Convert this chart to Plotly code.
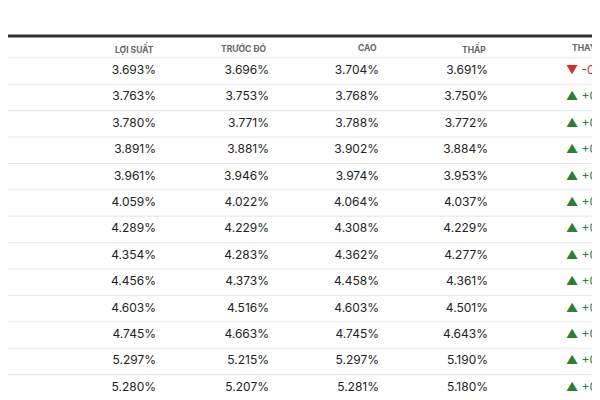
import plotly.graph_objects as go

tenors = ["1M","2M","3M","4M","6M","1Y","2Y","3Y","5Y","7Y","10Y","20Y","30Y"]
yield_ = ["3.693%","3.763%","3.780%","3.891%","3.961%","4.059%","4.289%","4.354%","4.456%","4.603%","4.745%","5.297%","5.280%"]
prev = ["3.696%","3.753%","3.771%","3.881%","3.946%","4.022%","4.229%","4.283%","4.373%","4.516%","4.663%","5.215%","5.207%"]
high = ["3.704%","3.768%","3.788%","3.902%","3.974%","4.064%","4.308%","4.362%","4.458%","4.603%","4.745%","5.297%","5.281%"]
low = ["3.691%","3.750%","3.772%","3.884%","3.953%","4.037%","4.229%","4.277%","4.361%","4.501%","4.643%","5.190%","5.180%"]
change = ["▼ -0.0"] + ["▲ +0.0"]*12
headers = ["LỢI SUẤT","TRƯỚC ĐÓ","CAO","THẤP","THAY"]
title = "ng cong Lợi suất Kho bạc Mỹ"

ROW0, RH = 63, 26.4
ys = [ROW0 + RH*i for i in range(len(tenors))]
FONT = "Inter, Lato, sans-serif"

fig = go.Figure()
fig.add_trace(go.Scatter(x=[1]*len(tenors), y=ys, text=tenors, mode="text", cliponaxis=False,
    textposition="middle right", textfont=dict(size=12.5, color="#111", family=FONT, weight="bold"),
    hoverinfo="skip"))
cols = [(yield_, 156), (prev, 269), (high, 379), (low, 488)]
for vals, x in cols:
    fig.add_trace(go.Scatter(x=[x]*len(vals), y=ys, text=vals, mode="text", cliponaxis=False,
        textposition="middle left", textfont=dict(size=12, color="#222", family=FONT),
        hoverinfo="skip"))
colors = ["#d32f2f" if c.startswith("▼") else "#2e7d32" for c in change]
fig.add_trace(go.Scatter(x=[566]*len(change), y=ys, text=change, mode="text", cliponaxis=False,
    textposition="middle right", textfont=dict(size=12, color=colors, family=FONT),
    hoverinfo="skip"))

hx = [156, 269, 379, 488, 598]
for h, x in zip(headers, hx):
    fig.add_annotation(x=x, y=40, text=h, showarrow=False, xanchor="right",
        font=dict(size=8.5, color="#666", family=FONT, weight="bold"))
fig.add_annotation(x=2, y=14, text=f"<b>{title}</b>", showarrow=False, xanchor="left",
    font=dict(size=10.5, color="#111", family=FONT))

fig.add_shape(type="line", x0=0, x1=620, y0=28, y1=28, line=dict(color="#333", width=3))
for i in range(len(tenors)+1):
    yb = ROW0 - RH/2 + RH*i
    fig.add_shape(type="line", x0=0, x1=620, y0=yb, y1=yb, line=dict(color="#e6e6e6", width=1))

fig.update_layout(width=600, height=400, margin=dict(l=0, r=0, t=0, b=0),
    paper_bgcolor="white", plot_bgcolor="white", showlegend=False,
    xaxis=dict(range=[8, 608], visible=False),
    yaxis=dict(range=[400, 0], visible=False))
fig.write_html("out.html")
